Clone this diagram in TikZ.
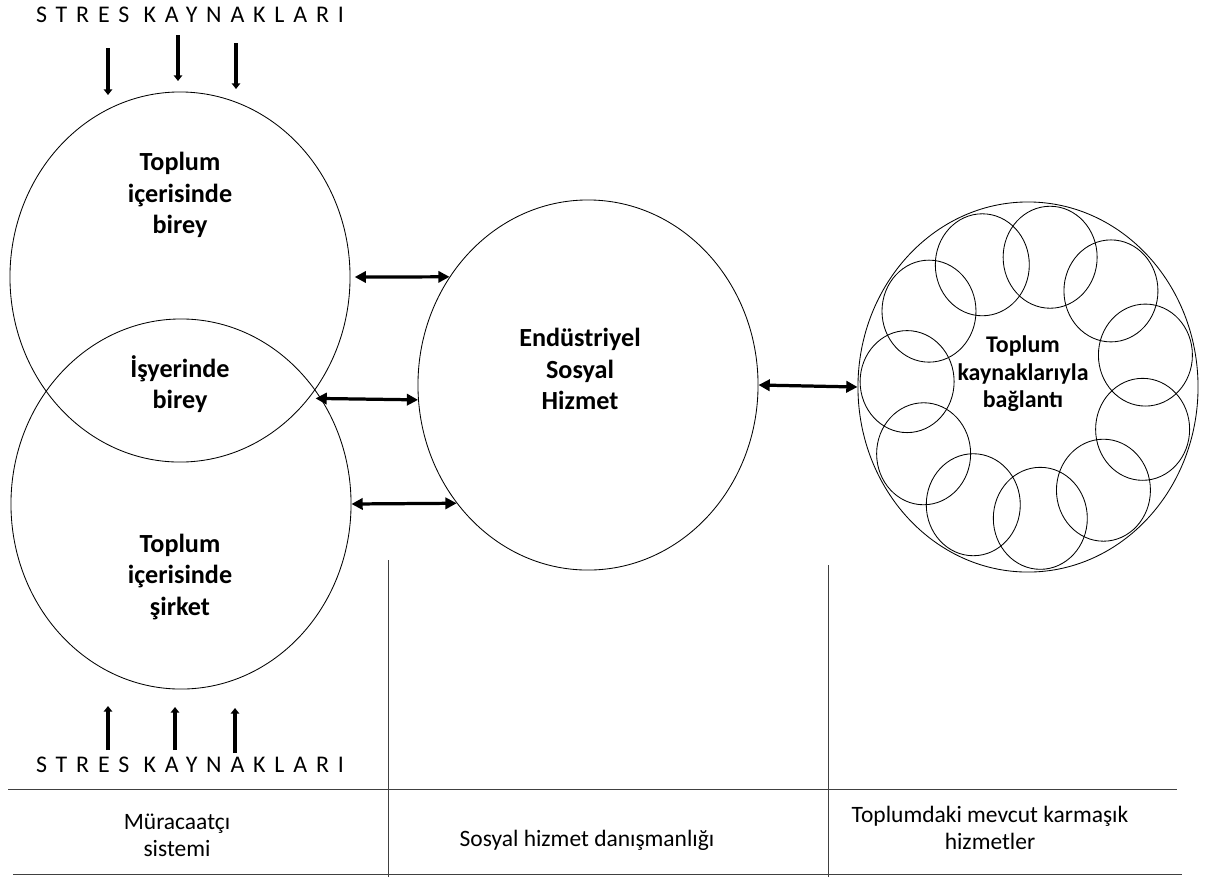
\documentclass[tikz,border=0pt]{standalone}
\usepackage{fontspec}
\setmainfont{Carlito}
\usetikzlibrary{shapes.geometric,arrows.meta}

\tikzset{
  bigcirc/.style={draw, ellipse, line width=0.6pt, minimum width=8.5cm, minimum height=9.25cm, inner sep=0pt},
  blabel/.style={align=center, font=\fontsize{18.6}{22.5}\selectfont\bfseries},
  plabel/.style={align=center, font=\fontsize{16.7}{19.2}\selectfont},
  stres/.style={font=\fontsize{17}{20}\selectfont\addfontfeature{LetterSpace=37}},
  dbl/.style={{Triangle[length=8pt,width=8pt]}-{Triangle[length=8pt,width=8pt]}, line width=2.3pt},
  sarr/.style={-{Triangle[length=4pt,width=6pt]}, line width=2.3pt},
  tline/.style={line width=0.7pt, black!75},
}

\begin{document}
\begin{tikzpicture}[x=0.025cm,y=-0.025cm]
\useasboundingbox (0,0) rectangle (1209,877);

            \node[bigcirc] (top) at (180,277) {};
            \node[bigcirc] (low) at (181,504) {};
            \node[bigcirc] (mid) at (588,385) {};
            \node[bigcirc] (ring) at (1028,387) {};
            \foreach \i in {0,...,10}
              \draw[line width=0.6pt] (ring.center) ++({121*cos(14+32.73*\i)},{-132*sin(14+32.73*\i)}) ellipse [x radius=47, y radius=51];

            \node[blabel] (tb) at (180,195) {Toplum\\içerisinde\\birey};
            \node[blabel] (ib) at (180,384) {İşyerinde\\birey};
            \node[blabel] (ts) at (180,577) {Toplum\\içerisinde\\şirket};
            \node[blabel] (esh) at (580,369) {Endüstriyel\\Sosyal\\Hizmet};
            \node[blabel, font=\fontsize{17}{19.5}\selectfont\bfseries] (tk) at (1023,374) {Toplum\\kaynaklarıyla\\bağlantı};

            \node[stres] (s1) at (190,15) {STRES KAYNAKLARI};
            \node[stres] (s2) at (190,765) {STRES KAYNAKLARI};
            \foreach \x/\a/\b [count=\i] in {108/48/95, 178/35/81, 236/43/89} {
              \coordinate (da\i) at (\x,\a);
              \coordinate (db\i) at (\x,\b);
              \draw[sarr] (da\i) -- (db\i);
            }
            \foreach \x/\a/\b [count=\i] in {108/750/706, 175/750/707, 235/753/708} {
              \coordinate (ua\i) at (\x,\a);
              \coordinate (ub\i) at (\x,\b);
              \draw[sarr] (ua\i) -- (ub\i);
            }

            \draw[dbl] ([xshift=3pt]top.east) -- (mid.142);
            \draw[dbl] ([xshift=-4pt]low.37) -- (mid.185);
            \draw[dbl] (low.east) -- (mid.222);
            \draw[dbl] (mid.east) -- (ring.west);

            \draw[tline] (8,789) -- (1177,789);
            \draw[tline] (13,874) -- (1182,874);
            \draw[tline] (388,560) -- (388,877);
            \draw[tline] (828,565) -- (828,877);

            \node[plabel] (ms) at (177,835) {Müracaatçı\\sistemi};
            \node[plabel] (sh) at (587,840) {Sosyal hizmet danışmanlığı};
            \node[plabel] (tm) at (990,828) {Toplumdaki mevcut karmaşık\\hizmetler};
\end{tikzpicture}
\end{document}
